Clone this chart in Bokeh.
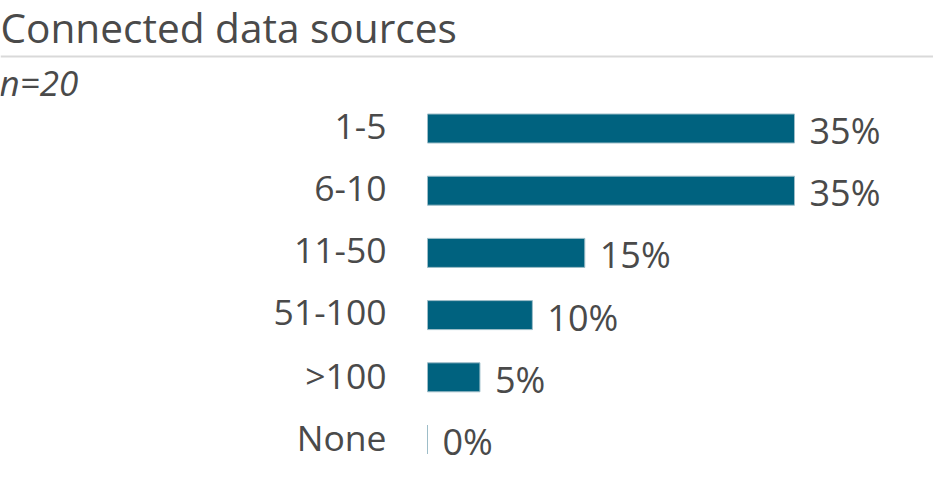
from bokeh.plotting import figure
from bokeh.models import Range1d, Label, Span, ColumnDataSource
from bokeh.core.properties import value
from bokeh.embed import file_html
from bokeh.resources import INLINE

# ---- data ----
title_text = "Connected data sources"
subtitle_text = "n=20"
categories = ["1-5", "6-10", "11-50", "51-100", ">100", "None"]
percentages = [35, 35, 15, 10, 5, 0]

# ---- layout (screen px inside the canvas) ----
W, H = 933, 466
PX_PER_PCT = 10.486
ZERO_X = 427          # px of 0%
ROW0_Y = 128          # px (from top) of first row centre
ROW_STEP = 62.2       # px between rows
BASE_FIX = 0.39       # svg baseline correction (em)

def y_of_px(px):
    return (px - ROW0_Y) / ROW_STEP

x_range = Range1d(-ZERO_X / PX_PER_PCT, (W - ZERO_X) / PX_PER_PCT)
y_range = Range1d(y_of_px(H), y_of_px(0))   # reversed: first category on top

TEXT = "#4a4a4a"
BAR = "#00627f"
FONT = "Open Sans"

p = figure(width=W, height=H, x_range=x_range, y_range=y_range,
           output_backend="svg", toolbar_location=None, min_border=0,
           background_fill_color="white", border_fill_color="white")
p.axis.visible = False
p.grid.visible = False
p.outline_line_color = None

pos = list(range(len(categories)))
src = ColumnDataSource(dict(
    pos=pos, cat=categories, pct=percentages,
    lbl=[f"{v}%" for v in percentages],
))

p.hbar(y="pos", right="pct", left=0, height=29 / ROW_STEP, source=src,
       fill_color=BAR, line_color="#9dbdc8", line_width=1)

p.text(x=0, y="pos", text="cat", source=src, text_align="right",
       text_baseline="alphabetic", x_offset=-41, y_offset=11.5 - BASE_FIX * 35.5,
       text_font=value(FONT), text_font_size="35.5px", text_color=TEXT)

p.text(x="pct", y="pos", text="lbl", source=src, text_align="left",
       text_baseline="alphabetic", x_offset=15, y_offset=16 - BASE_FIX * 36,
       text_font=value(FONT), text_font_size="36px", text_color=TEXT)

p.add_layout(Label(x=0, x_units="screen", y=y_of_px(43 - BASE_FIX * 40.6), text=title_text,
                   text_font=FONT, text_font_size="40.6px", text_color=TEXT,
                   text_baseline="alphabetic"))
p.add_layout(Span(location=y_of_px(56), dimension="width",
                  line_color="#d9d9d9", line_width=2))
p.add_layout(Label(x=-1, x_units="screen", y=y_of_px(96 - BASE_FIX * 35), text=subtitle_text,
                   text_font=FONT, text_font_size="35px", text_font_style="italic",
                   text_color=TEXT, text_baseline="alphabetic"))

open("out.html", "w").write(file_html(p, INLINE))
